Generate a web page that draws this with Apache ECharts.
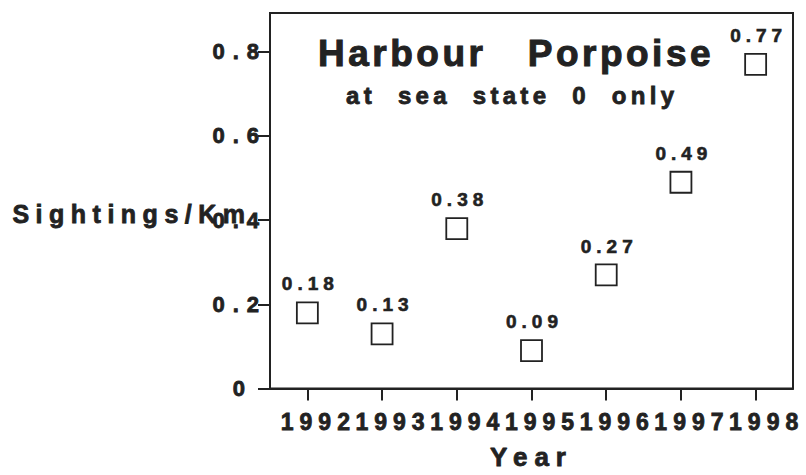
<!DOCTYPE html>
<html>
<head>
<meta charset="utf-8">
<script src="https://cdn.jsdelivr.net/npm/echarts@6/dist/echarts.min.js"></script>
<style>
  html, body { margin: 0; padding: 0; background: #fff; }
  #chart { width: 806px; height: 475px; }
  #chart text { white-space: pre; }
</style>
</head>
<body>
<div id="chart"></div>
<script>
// ---- data ----
const years = ['1992', '1993', '1994', '1995', '1996', '1997', '1998'];
const sightings = [0.18, 0.13, 0.38, 0.09, 0.27, 0.49, 0.77];
const yTicks = [0, 0.2, 0.4, 0.6, 0.8];
const titleText = 'Harbour   Porpoise';
const subtitleText = 'at  sea  state  0  only';
const xName = 'Year';
const yName = 'Sightings/Km';

// ---- style ----
const INK = '#222222';
const FONT = 'Liberation Sans, Arial, Helvetica, sans-serif';
const HEAVY = { fontFamily: FONT, fontWeight: 'bold', color: INK, textBorderColor: INK, textBorderWidth: 0.8 };
// letter spacing (px) per font size, applied to the SVG text after render
const SPACING = { 37: 3.5, 24: 4.3, 25: 6.5, 22: 8, 23: 6, 26: 7, 19: 5 };

const chart = echarts.init(document.getElementById('chart'), null, { renderer: 'svg' });

const option = {
  animation: false,
  backgroundColor: '#fff',
  textStyle: { fontFamily: FONT, fontWeight: 'bold', color: INK },
  title: [
    {
      text: titleText, left: 318, top: 35, padding: 0,
      textStyle: Object.assign({}, HEAVY, { fontSize: 37, textBorderWidth: 1 })
    },
    {
      text: subtitleText, left: 346, top: 83, padding: 0,
      textStyle: Object.assign({}, HEAVY, { fontSize: 24 })
    }
  ],
  graphic: [
    {
      type: 'text', left: 12, top: 201, z: 10,
      style: { text: yName, font: 'bold 25px ' + FONT, fill: INK, stroke: INK, lineWidth: 0.8 }
    }
  ],
  grid: {
    left: 270, right: 13, top: 13, bottom: 85,
    show: true, borderColor: INK, borderWidth: 2, backgroundColor: 'transparent'
  },
  xAxis: {
    type: 'category',
    data: years,
    boundaryGap: true,
    name: xName,
    nameLocation: 'middle',
    nameGap: 55,
    nameTextStyle: Object.assign({}, HEAVY, { fontSize: 26 }),
    axisLine: { show: true, lineStyle: { color: INK, width: 2 } },
    axisTick: { show: true, alignWithLabel: true, length: 12, inside: false, lineStyle: { color: INK, width: 2 } },
    axisLabel: Object.assign({}, HEAVY, {
      interval: 0, margin: 22, padding: [0, 0, 0, 22], fontSize: 23
    }),
    splitLine: { show: false }
  },
  yAxis: {
    type: 'value',
    min: 0,
    max: 0.892,
    axisLine: { show: true, lineStyle: { color: INK, width: 2 } },
    axisTick: { show: true, length: 12, inside: false, customValues: yTicks, lineStyle: { color: INK, width: 2 } },
    axisLabel: Object.assign({}, HEAVY, {
      customValues: yTicks, margin: 3, fontSize: 22,
      formatter: v => (v === 0 ? '0 ' : v.toFixed(1))
    }),
    splitLine: { show: false }
  },
  series: [
    {
      type: 'scatter',
      data: sightings,
      symbol: 'rect',
      symbolSize: 21,
      itemStyle: { color: '#fff', borderColor: INK, borderWidth: 1.8, opacity: 1 },
      label: Object.assign({}, HEAVY, {
        show: true, position: 'top', distance: 8, offset: [3, 0], fontSize: 19, opacity: 1,
        textBorderWidth: 0.6,
        formatter: p => p.value.toFixed(2)
      }),
      emphasis: { disabled: true }
    }
  ]
};

chart.setOption(option);

function applySpacing() {
  document.querySelectorAll('#chart svg text').forEach(t => {
    const fs = Math.round(parseFloat(getComputedStyle(t).fontSize));
    if (SPACING[fs] != null) t.style.letterSpacing = SPACING[fs] + 'px';
    t.style.whiteSpace = 'pre';
  });
}
applySpacing();
chart.on('finished', applySpacing);
</script>
</body>
</html>
